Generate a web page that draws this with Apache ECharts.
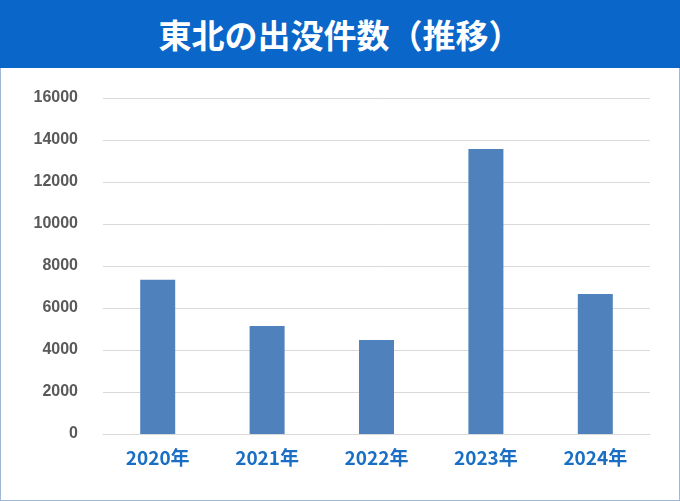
<!DOCTYPE html>
<html><head><meta charset="utf-8">
<script src="https://cdn.jsdelivr.net/npm/echarts@6/dist/echarts.min.js"></script>
<style>html,body{margin:0;padding:0;background:#fff}
#wrap{position:absolute;left:0;top:0;width:678px;height:499px;border:1px solid #9fb8d8;}
#title{position:absolute;left:0;top:0;width:680px;height:68px;background:#0a66c8;color:#fff;font:bold 33px "Noto Sans CJK JP";text-align:center;line-height:68px;}
#c{position:absolute;left:0;top:68px;width:680px;height:433px}</style>
</head><body><div id="wrap"></div><div id="title">東北の出没件数（推移）</div><div id="c"></div>
<script>
const categories=['2020年','2021年','2022年','2023年','2024年'];
const values=[7350,5140,4480,13570,6670];
const chart=echarts.init(document.getElementById('c'));
chart.setOption({
 animation:false,
 grid:{left:103,right:30,top:30,bottom:67},
 xAxis:{type:'category',data:categories,axisTick:{show:false},
  axisLine:{lineStyle:{color:'#d9d9d9'}},
  axisLabel:{color:'#1a6fc4',fontSize:19,fontWeight:'bold',fontFamily:'Noto Sans CJK JP',margin:14}},
 yAxis:{type:'value',min:0,max:16000,interval:2000,
  axisLabel:{color:'#595959',fontSize:16,fontWeight:'bold',fontFamily:'Liberation Sans',margin:25,formatter:v=>String(v)},
  splitLine:{lineStyle:{color:'#d9d9d9'}}},
 series:[{type:'bar',data:values,barWidth:35,itemStyle:{color:'#4f81bd'}}]
});
</script></body></html>
